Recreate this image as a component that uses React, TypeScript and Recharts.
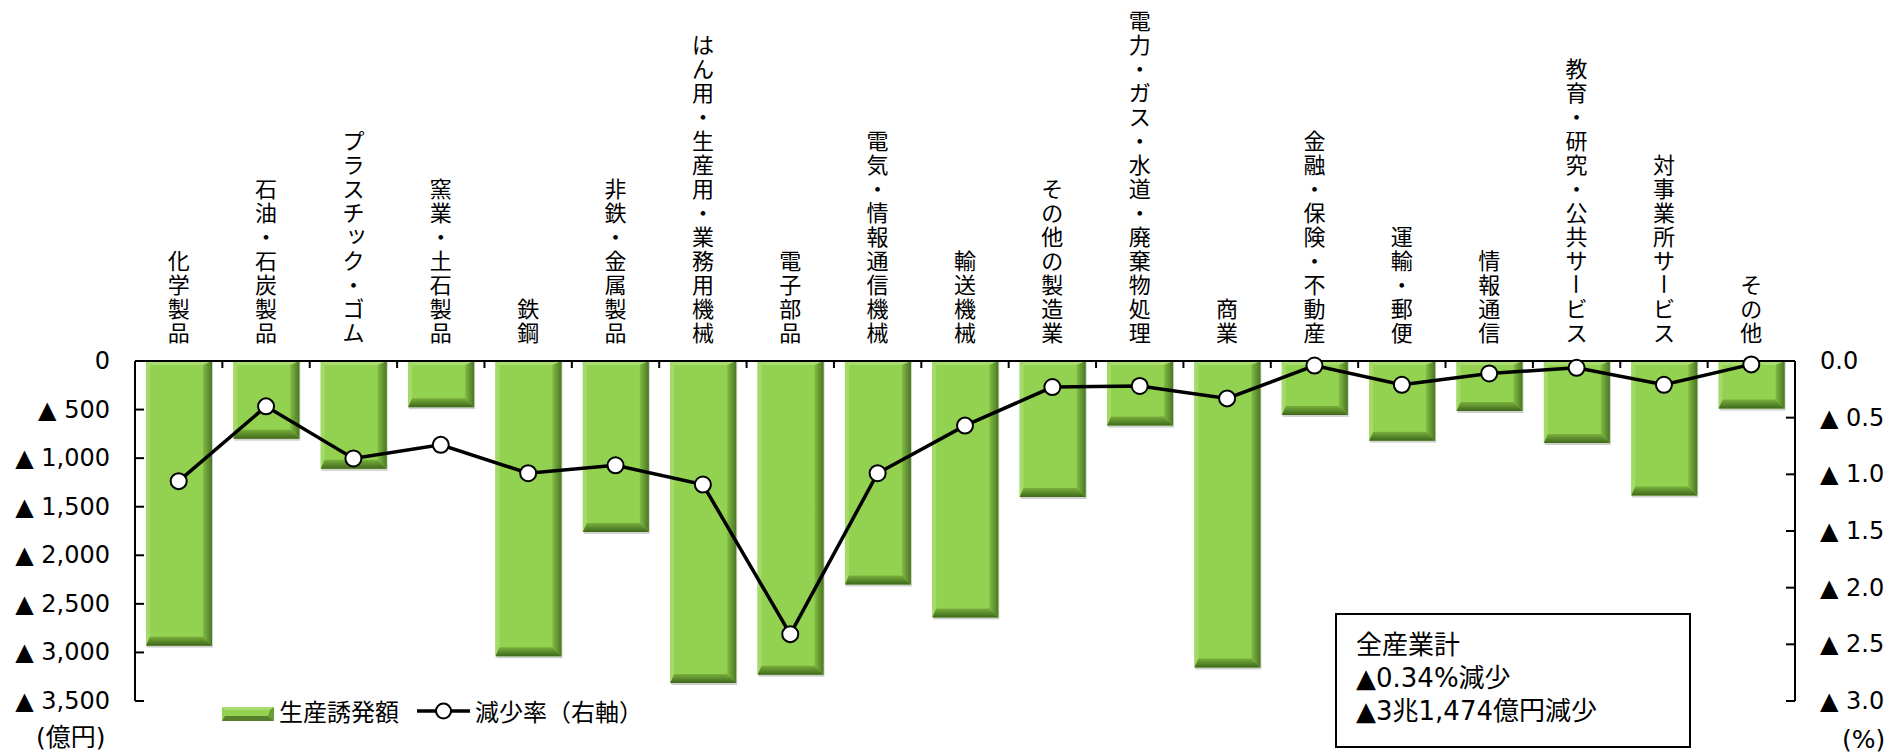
import React from "react";
import { ComposedChart, Bar, Line, XAxis, YAxis, Legend } from "recharts";

const categories = [
  "化学製品",
  "石油・石炭製品",
  "プラスチック・ゴム",
  "窯業・土石製品",
  "鉄鋼",
  "非鉄・金属製品",
  "はん用・生産用・業務用機械",
  "電子部品",
  "電気・情報通信機械",
  "輸送機械",
  "その他の製造業",
  "電力・ガス・水道・廃棄物処理",
  "商業",
  "金融・保険・不動産",
  "運輸・郵便",
  "情報通信",
  "教育・研究・公共サービス",
  "対事業所サービス",
  "その他",
];

// 生産誘発額 (億円), decreases shown as negatives
const inducedAmount = [
  -2930, -800, -1110, -475, -3040, -1760, -3315, -3230, -2300, -2640, -1400,
  -665, -3155, -555, -820, -515, -845, -1385, -490,
];

// 減少率 (%), right axis
const declineRate = [
  -1.06, -0.4, -0.86, -0.74, -0.99, -0.92, -1.09, -2.41, -0.99, -0.57, -0.23,
  -0.22, -0.33, -0.04, -0.21, -0.11, -0.06, -0.21, -0.03,
];

const leftTicks = [0, -500, -1000, -1500, -2000, -2500, -3000, -3500];
const rightTicks = [0, -0.5, -1, -1.5, -2, -2.5, -3];

const summaryLines = ["全産業計", "▲0.34%減少", "▲3兆1,474億円減少"];

const W = 1902;
const H = 756;
const PLOT_LEFT = 135;
const PLOT_RIGHT = 1795;
const PLOT_TOP = 361;
const PLOT_BOTTOM = 701;
const BAND = (PLOT_RIGHT - PLOT_LEFT) / categories.length;

const JP = "'Noto Sans CJK JP', sans-serif";
const LATIN = "'DejaVu Sans', 'Noto Sans CJK JP', sans-serif";

const data = categories.map((name, i) => ({
  name,
  amount: inducedAmount[i],
  rate: declineRate[i],
}));

const fmtLeft = (v: number) =>
  v === 0 ? "0" : "▲ " + Math.abs(v).toLocaleString("en-US");
const fmtRight = (v: number) =>
  v === 0 ? "0.0" : "▲ " + Math.abs(v).toFixed(1);

const LeftTick = (props: any) => {
  const { y, payload } = props;
  return (
    <g>
      <line x1={PLOT_LEFT} x2={PLOT_LEFT + 9} y1={y} y2={y} stroke="#000" strokeWidth={2} />
      <text
        x={110}
        y={y}
        textAnchor="end"
        dominantBaseline="central"
        fontFamily={LATIN}
        fontSize={24}
        fill="#000"
      >
        {fmtLeft(payload.value)}
      </text>
    </g>
  );
};

const RightTick = (props: any) => {
  const { y, payload } = props;
  return (
    <g>
      <line x1={PLOT_RIGHT - 9} x2={PLOT_RIGHT} y1={y} y2={y} stroke="#000" strokeWidth={2} />
      <text
        x={PLOT_RIGHT + 25}
        y={y}
        textAnchor="start"
        dominantBaseline="central"
        fontFamily={LATIN}
        fontSize={24}
        fill="#000"
      >
        {fmtRight(payload.value)}
      </text>
    </g>
  );
};

// vertical category label, stacked characters, bottom aligned above the plot
const CategoryTick = (props: any) => {
  const { x, payload, index } = props;
  const chars = Array.from(String(payload.value));
  const fs = 22;
  const pitch = 24;
  const base = 340.5;
  const n = chars.length;
  return (
    <g>
      {index > 0 && (
        <line
          x1={x - BAND / 2}
          x2={x - BAND / 2}
          y1={PLOT_TOP}
          y2={PLOT_TOP + 7}
          stroke="#000"
          strokeWidth={2}
        />
      )}
      <text textAnchor="middle" fontFamily={JP} fontSize={fs} fill="#000">
        {chars.map((c, i) => {
          const by = base - (n - 1 - i) * pitch;
          if (c === "ー") {
            return (
              <tspan key={i} x={x + 2.6} y={by - 19.4} rotate="90">
                {c}
              </tspan>
            );
          }
          const small = c === "ッ";
          return (
            <tspan key={i} x={small ? x + 3 : x} y={small ? by - 3 : by}>
              {c}
            </tspan>
          );
        })}
      </text>
    </g>
  );
};

const BevelBar = (props: any) => {
  const { x, y, width, height } = props;
  if (width == null || height == null) return null;
  const top = Math.min(y, y + height);
  const h = Math.abs(height);
  const l = x;
  const r = x + width;
  const b = top + h;
  const tl = Math.min(4, h / 3);
  const br = Math.min(9, h / 3);
  return (
    <g>
      <rect x={l + 1} y={top + 1} width={width} height={h + 1} fill="rgba(0,0,0,0.18)" />
      <rect x={l} y={top} width={width} height={h} fill="#93D150" />
      <polygon
        points={`${l},${top} ${l + tl},${top + tl} ${l + tl},${b - br} ${l},${b}`}
        fill="#A3DA68"
      />
      <polygon
        points={`${l},${top} ${r},${top} ${r - br},${top + tl} ${l + tl},${top + tl}`}
        fill="#A9DD70"
      />
      <polygon
        points={`${r},${top} ${r},${b} ${r - br},${b - br} ${r - br},${top + tl}`}
        fill="url(#bevelRight)"
      />
      <polygon
        points={`${l},${b} ${r},${b} ${r - br},${b - br} ${l + tl},${b - br}`}
        fill="url(#bevelBottom)"
      />
    </g>
  );
};

const LegendContent = () => (
  <div
    style={{
      display: "flex",
      alignItems: "center",
      fontFamily: JP,
      fontSize: 24,
      lineHeight: "28px",
      color: "#000",
      whiteSpace: "nowrap",
    }}
  >
    <svg width={52} height={14} style={{ position: "relative", top: 3 }}>
      <rect x={0} y={0} width={52} height={14} fill="#93D150" />
      <polygon points="0,0 52,0 48,3 3,3" fill="#A9DD70" />
      <polygon points="0,14 52,14 46,9 3,9" fill="#557F2A" />
      <polygon points="52,0 52,14 46,9 48,3" fill="#6A9C37" />
    </svg>
    <span style={{ marginLeft: 5 }}>生産誘発額</span>
    <svg width={53} height={20} style={{ marginLeft: 18 }}>
      <line x1={0} x2={53} y1={10} y2={10} stroke="#000" strokeWidth={3.5} />
      <circle cx={26.5} cy={10} r={7.5} fill="#fff" stroke="#000" strokeWidth={2} />
    </svg>
    <span style={{ marginLeft: 5 }}>減少率（右軸）</span>
  </div>
);

const App: React.FC = () => {
  return (
    <div
      style={{
        position: "absolute",
        left: 0,
        top: 0,
        width: W,
        height: H,
        background: "#fff",
      }}
    >
      <ComposedChart
        width={W}
        height={H}
        data={data}
        margin={{ top: PLOT_TOP - 10, right: 0, bottom: H - PLOT_BOTTOM, left: 0 }}
      >
        <defs>
          <linearGradient id="bevelRight" x1="0" y1="0" x2="1" y2="0">
            <stop offset="0%" stopColor="#82BB45" />
            <stop offset="100%" stopColor="#4A7723" />
          </linearGradient>
          <linearGradient id="bevelBottom" x1="0" y1="0" x2="0" y2="1">
            <stop offset="0%" stopColor="#79AF3C" />
            <stop offset="100%" stopColor="#3E681B" />
          </linearGradient>
        </defs>
        <XAxis
          dataKey="name"
          orientation="top"
          height={10}
          interval={0}
          tickLine={false}
          axisLine={{ stroke: "#000", strokeWidth: 2 }}
          tick={<CategoryTick />}
        />
        <YAxis
          yAxisId="left"
          width={PLOT_LEFT}
          domain={[-3500, 0]}
          ticks={leftTicks}
          interval={0}
          tickLine={false}
          axisLine={{ stroke: "#000", strokeWidth: 2 }}
          tick={<LeftTick />}
        />
        <YAxis
          yAxisId="right"
          orientation="right"
          width={W - PLOT_RIGHT}
          domain={[-3, 0]}
          ticks={rightTicks}
          interval={0}
          tickLine={false}
          axisLine={{ stroke: "#000", strokeWidth: 2 }}
          tick={<RightTick />}
        />
        <Legend
          layout="horizontal"
          align="center"
          verticalAlign="middle"
          wrapperStyle={{ left: 222, top: 697, width: "auto", height: "auto" }}
          content={<LegendContent />}
        />
        <Bar
          yAxisId="left"
          dataKey="amount"
          name="生産誘発額"
          barSize={66}
          shape={<BevelBar />}
          isAnimationActive={false}
        />
        <Line
          yAxisId="right"
          dataKey="rate"
          name="減少率（右軸）"
          stroke="#000"
          strokeWidth={3.5}
          dot={{ r: 8, fill: "#fff", stroke: "#000", strokeWidth: 2 }}
          activeDot={false}
          isAnimationActive={false}
        />
      </ComposedChart>

      <div
        style={{
          position: "absolute",
          left: 36,
          top: 723,
          fontFamily: LATIN,
          fontSize: 25,
          lineHeight: "30px",
          color: "#000",
        }}
      >
        (億円)
      </div>
      <div
        style={{
          position: "absolute",
          left: 1842,
          top: 725,
          fontFamily: LATIN,
          fontSize: 25,
          lineHeight: "30px",
          color: "#000",
        }}
      >
        (%)
      </div>
      <div
        style={{
          position: "absolute",
          left: 1335,
          top: 613,
          width: 356,
          height: 135,
          boxSizing: "border-box",
          border: "2px solid #000",
          background: "#fff",
          padding: "14px 0 0 19px",
          fontFamily: LATIN,
          fontSize: 26,
          lineHeight: "33px",
          color: "#000",
        }}
      >
        {summaryLines.map((t) => (
          <div key={t}>{t}</div>
        ))}
      </div>
    </div>
  );
};

export default App;
